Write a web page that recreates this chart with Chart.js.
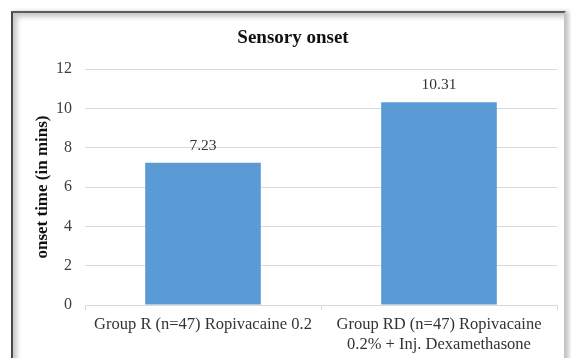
<!DOCTYPE html>
<html>
<head>
<meta charset="utf-8">
<script src="https://cdn.jsdelivr.net/npm/chart.js@4/dist/chart.umd.min.js"></script>
<style>
  html, body { margin: 0; padding: 0; background: #fff; }
  #wrap { position: relative; width: 571px; height: 358px; overflow: hidden; }
  #frame {
    position: absolute; left: 11px; top: 11px; width: 551px; height: 380px;
    border-left: 2px solid #4a4a4a; border-top: 2px solid #5a5a5a;
    border-right: 2px solid #c4c4c4;
    box-shadow: inset 4px 4px 5px rgba(0,0,0,0.22), 3px 0 4px rgba(0,0,0,0.22);
    pointer-events: none;
  }
  canvas { display: block; }
</style>
</head>
<body>
<div id="wrap">
  <canvas id="c" width="571" height="358"></canvas>
  <div id="frame"></div>
</div>
<script>
// Sensory onset times per group (minutes)
const groups = [
  'Group R (n=47) Ropivacaine 0.2',
  ['Group RD (n=47) Ropivacaine', '0.2% + Inj. Dexamethasone']
];
const onsetMins = [7.23, 10.31];
const yTicks = [0, 2, 4, 6, 8, 10, 12];

const serif = "'Liberation Serif', 'Times New Roman', serif";

// Writes each bar's value just above it
const valueLabels = {
  id: 'valueLabels',
  afterDatasetsDraw(chart) {
    const ctx = chart.ctx;
    const meta = chart.getDatasetMeta(0);
    ctx.save();
    ctx.font = '15.5px ' + serif;
    ctx.fillStyle = '#333333';
    ctx.textAlign = 'center';
    ctx.textBaseline = 'middle';
    meta.data.forEach((bar, i) => {
      ctx.fillText(onsetMins[i].toFixed(2), bar.x, bar.y - 17);
    });
    ctx.restore();
  }
};

new Chart(document.getElementById('c'), {
  type: 'bar',
  data: {
    labels: groups,
    datasets: [{
      data: onsetMins,
      backgroundColor: '#5b9bd5',
      borderWidth: 0,
      barPercentage: 0.49,
      categoryPercentage: 1.0
    }]
  },
  options: {
    responsive: false,
    animation: false,
    devicePixelRatio: 1,
    layout: { padding: { left: 29, right: 14, top: 0, bottom: 0 } },
    plugins: {
      legend: { display: false },
      tooltip: { enabled: false },
      title: {
        display: true,
        text: 'Sensory onset',
        color: '#111111',
        font: { family: serif, size: 19, weight: 'bold', lineHeight: 1.2 },
        padding: { top: 26.6, bottom: 19.6 }
      }
    },
    scales: {
      x: {
        afterFit(scale) { scale.height = 53; },
        grid: {
          display: true,
          drawOnChartArea: false,
          drawTicks: true,
          tickLength: 5,
          color: '#d9d9d9',
          offset: true
        },
        border: { display: true, color: '#d9d9d9' },
        ticks: {
          color: '#333333',
          padding: 5,
          maxRotation: 0,
          autoSkip: false,
          font: { family: serif, size: 16.5, lineHeight: '20px' }
        }
      },
      y: {
        min: 0,
        max: 12,
        afterFit(scale) { scale.width = 56; },
        afterBuildTicks(scale) { scale.ticks = yTicks.map(v => ({ value: v })); },
        grid: { color: '#d9d9d9', drawTicks: false },
        border: { display: false },
        ticks: {
          color: '#404040',
          padding: 13,
          font: { family: serif, size: 16 }
        },
        title: {
          display: true,
          text: 'onset time (in mins)',
          color: '#111111',
          font: { family: serif, size: 17, weight: 'bold', lineHeight: 1.2 },
          padding: { top: 3.8, bottom: 0 }
        }
      }
    }
  },
  plugins: [valueLabels]
});
</script>
</body>
</html>
